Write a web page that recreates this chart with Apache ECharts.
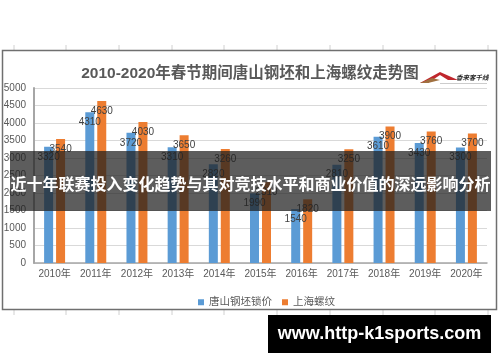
<!DOCTYPE html>
<html>
<head>
<meta charset="utf-8">
<script src="https://cdn.jsdelivr.net/npm/echarts@6/dist/echarts.min.js"></script>
<style>
html,body{margin:0;padding:0;background:#fff;}
#c{width:500px;height:362px;}
</style>
</head>
<body>
<div id="c"></div>
<script>
var categories = ['2010年','2011年','2012年','2013年','2014年','2015年','2016年','2017年','2018年','2019年','2020年'];
var tangshanBillet = [3320, 4310, 3720, 3310, 2820, 1990, 1540, 2810, 3610, 3430, 3300];
var shanghaiRebar = [3540, 4630, 4030, 3650, 3260, 2310, 1820, 3250, 3900, 3760, 3700];
var seriesNames = ['唐山钢坯锁价', '上海螺纹'];
var chartTitle = '2010-2020年春节期间唐山钢坯和上海螺纹走势图';
var bannerText = '近十年联赛投入变化趋势与其对竞技水平和商业价值的深远影响分析';
var watermarkText = 'www.http-k1sports.com';

var chart = echarts.init(document.getElementById('c'), null, {renderer:'canvas'});
var FONT = "'Liberation Sans','Noto Sans CJK SC',sans-serif";

var sheetTicks = [];
[14,66,119,172,224,277,330,383,435,488].forEach(function(x){
  sheetTicks.push({type:'line', shape:{x1:x,y1:45,x2:x,y2:50}, style:{stroke:'#d0d0d0',lineWidth:1}, z:1});
  sheetTicks.push({type:'line', shape:{x1:x,y1:310,x2:x,y2:315}, style:{stroke:'#d0d0d0',lineWidth:1}, z:1});
});

var option = {
  backgroundColor:'#fff',
  animation:false,
  textStyle:{fontFamily:FONT},
  title:{
    text: chartTitle,
    left:'center', top:61,
    textStyle:{fontSize:15.5, fontWeight:'bold', color:'#595959', fontFamily:FONT}
  },
  legend:{
    data: seriesNames,
    left:193, top:292,
    icon:'rect', itemWidth:6, itemHeight:6, itemGap:10,
    textStyle:{fontSize:10.5, color:'#595959', fontFamily:FONT}
  },
  grid:{left:34, right:13, top:88, bottom:99, containLabel:false},
  xAxis:{
    type:'category',
    data: categories,
    axisLine:{lineStyle:{color:'#a6a6a6', width:1.5}},
    axisTick:{show:false},
    axisLabel:{interval:0, fontSize:10, color:'#595959', margin:6}
  },
  yAxis:{
    type:'value', min:0, max:5000, interval:500,
    axisLine:{show:true, lineStyle:{color:'#a6a6a6', width:2}},
    axisTick:{show:false},
    axisLabel:{fontSize:10, color:'#595959', margin:8, formatter:function(v){return String(v);}},
    splitLine:{lineStyle:{color:'#d9d9d9', width:1}}
  },
  series:[
    {
      name: seriesNames[0], type:'bar', data: tangshanBillet,
      barWidth:9, barGap:'33%',
      itemStyle:{color:'#5B9BD5'},
      label:{show:true, position:'insideTop', distance:5, fontSize:10, color:'#404040', fontFamily:FONT}
    },
    {
      name: seriesNames[1], type:'bar', data: shanghaiRebar,
      barWidth:9, barGap:'33%',
      itemStyle:{color:'#ED7D31'},
      label:{show:true, position:'insideTop', distance:5, fontSize:10, color:'#404040', fontFamily:FONT}
    }
  ],
  graphic:[
    {type:'rect', shape:{x:2.5,y:50.5,width:494,height:259}, style:{fill:null, stroke:'#6f6f6f', lineWidth:1.5}, z:60}
  ].concat(sheetTicks).concat([
    {type:'polygon', shape:{points:[[420,83],[440,72],[458,80],[448,80],[440,75],[428,83]]}, style:{fill:'#c0272d'}, z:60},
    {type:'polygon', shape:{points:[[420,83],[432,78],[440,80],[428,83]]}, style:{fill:'#a07040'}, z:60},
    {type:'text', style:{x:456, y:74, text:'香来客千线', font:"bold italic 6.5px 'Noto Sans CJK SC'", fill:'#222'}, z:60},
    {type:'line', shape:{x1:440,y1:83.5,x2:487,y2:83.5}, style:{stroke:'#aaa',lineWidth:0.6}, z:60},
    {type:'rect', shape:{x:10,y:151,width:481,height:60}, style:{fill:'rgba(30,30,30,0.72)'}, z:100},
    {type:'text', style:{x:250.5, y:184, text:bannerText, textAlign:'center', textVerticalAlign:'middle', font:"bold 16px 'Noto Sans CJK SC'", fill:'#fff'}, z:101},
    {type:'rect', shape:{x:268,y:315,width:223,height:38}, style:{fill:'#000'}, z:100},
    {type:'text', style:{x:379.5, y:334, text:watermarkText, textAlign:'center', textVerticalAlign:'middle', font:"bold 18px 'Liberation Sans'", fill:'#fff'}, z:101}
  ])
};
chart.setOption(option);
</script>
</body>
</html>
